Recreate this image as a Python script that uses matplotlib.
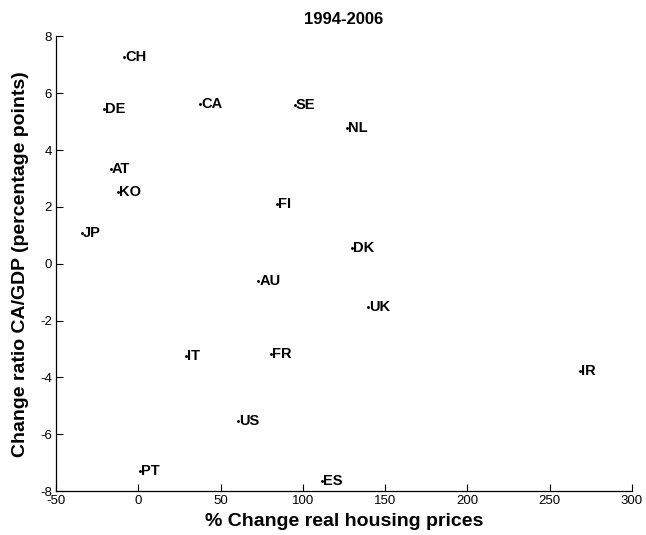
import matplotlib.pyplot as plt

plt.rcParams['font.family'] = ['Liberation Sans', 'DejaVu Sans']
plt.rcParams['axes.unicode_minus'] = False

# country codes and values
countries = ['CH', 'DE', 'CA', 'SE', 'NL', 'AT', 'KO', 'FI', 'JP', 'DK',
             'AU', 'UK', 'IT', 'FR', 'IR', 'US', 'PT', 'ES']
house_change = [-8.7, -20.8, 37.5, 95.2, 126.6, -16.6, -12.3, 84.3, -34.2, 129.8,
                72.9, 139.8, 28.8, 80.8, 268.3, 60.4, 1.0, 111.6]
ca_change = [7.28, 5.45, 5.62, 5.60, 4.77, 3.33, 2.52, 2.09, 1.09, 0.56,
             -0.61, -1.51, -3.25, -3.16, -3.78, -5.54, -7.29, -7.65]

fig = plt.figure(figsize=(6.46, 5.35), dpi=100)
ax = fig.add_axes([0.0867, 0.0822, 0.8913, 0.8496])

ax.plot(house_change, ca_change, linestyle='none', marker='.', markersize=2.2, color='black')
for name, x, y in zip(countries, house_change, ca_change):
    ax.annotate(name, (x, y), xytext=(0.8, 0), textcoords='offset points',
                ha='left', va='center', fontsize=10.5, fontweight='bold')

ax.set_xlim(-50, 300)
ax.set_ylim(-8, 8)
ax.set_xticks(range(-50, 301, 50))
ax.set_yticks(range(-8, 9, 2))

for side in ['top', 'right']:
    ax.spines[side].set_visible(False)
for side in ['left', 'bottom']:
    ax.spines[side].set_linewidth(0.9)
ax.tick_params(direction='in', length=5, width=0.8, labelsize=9.5, pad=3)

ax.set_xlabel('% Change real housing prices', fontsize=14, fontweight='bold', labelpad=4)
ax.set_ylabel('Change ratio CA/GDP (percentage points)', fontsize=14, fontweight='bold', labelpad=8)
ax.set_title('1994-2006', fontsize=12, fontweight='bold', pad=9)

fig.savefig('out.png', dpi=100)
